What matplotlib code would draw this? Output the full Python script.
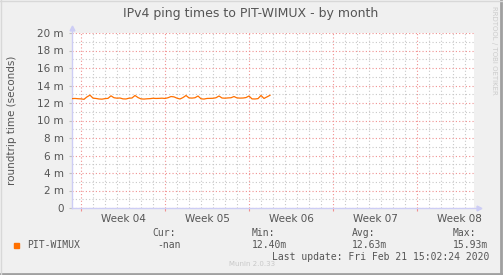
import matplotlib
matplotlib.use("Agg")
import matplotlib.pyplot as plt
import matplotlib.transforms as mtransforms
from matplotlib.lines import Line2D
import numpy as np

# ping samples, one every 6 hours, days counted from Mon Jan 20 2020
start_day = -0.75
step_days = 0.25
ping_ms = [
    12.50, 12.52, 12.49, 12.47, 12.42, 12.70, 12.90, 12.55, 12.52, 12.46,
    12.44, 12.50, 12.53, 12.82, 12.60, 12.55, 12.57, 12.47, 12.46, 12.55,
    12.57, 12.86, 12.62, 12.47, 12.45, 12.48, 12.50, 12.54, 12.52, 12.53,
    12.55, 12.52, 12.60, 12.74, 12.70, 12.55, 12.46, 12.62, 12.86, 12.58,
    12.56, 12.60, 12.80, 12.48, 12.45, 12.52, 12.53, 12.54, 12.60, 12.80,
    12.57, 12.55, 12.58, 12.60, 12.74, 12.58, 12.56, 12.57, 12.62, 12.80,
    12.47, 12.46, 12.50, 12.86, 12.52, 12.70, 12.88,
]
week_starts = [0, 7, 14, 21, 28]
week_labels = ["Week 04", "Week 05", "Week 06", "Week 07", "Week 08"]
y_ticks = [0, 2, 4, 6, 8, 10, 12, 14, 16, 18, 20]
y_labels = ["0"] + [f"{v} m" for v in y_ticks[1:]]
x_range = (-0.75, 32.75)

series_name = "PIT-WIMUX"
stats_heads = ["Cur:", "Min:", "Avg:", "Max:"]
stats_vals = ["-nan", "12.40m", "12.63m", "15.93m"]
last_update = "Last update: Fri Feb 21 15:02:24 2020"

bg = "#F0F0F0"
txt = "#555555"
line_col = "#FF7000"
axis_col = "#CDCDF5"

fig = plt.figure(figsize=(5.03, 2.75), dpi=100, facecolor=bg)
ax = fig.add_axes([72 / 503, 1 - 208 / 275, 402 / 503, 175 / 275])
ax.set_facecolor("white")

t = start_day + step_days * np.arange(len(ping_ms))
ax.plot(t, ping_ms, color=line_col, linewidth=0.9, zorder=5)

ax.set_xlim(*x_range)
ax.set_ylim(0, 20)

ax.set_xticks(week_starts)
ax.set_xticklabels([])
ax.set_xticks(np.arange(0, 33), minor=True)
ax.set_yticks(y_ticks)
ax.set_yticklabels(y_labels)
ax.set_yticks(np.arange(0, 21), minor=True)

ax.grid(which="minor", color="#C8C8C8", linestyle=(0, (1, 2)), linewidth=0.8)
ax.grid(which="major", color="#F09090", linestyle=(0, (1, 2)), linewidth=0.8)
ax.set_axisbelow(True)

ax.tick_params(axis="x", which="major", length=2, color="#F09090", pad=2)
ax.tick_params(axis="y", which="major", length=2, color="#C0C0C0",
               labelsize=7.5, labelcolor=txt, pad=4)
ax.tick_params(which="minor", length=0)

trans = mtransforms.blended_transform_factory(ax.transData, ax.transAxes)
for ws, lab in zip(week_starts, week_labels):
    ax.text(ws + 3.5, -0.035, lab, transform=trans, ha="center", va="top",
            fontsize=7.5, color=txt)

for s in ax.spines.values():
    s.set_visible(False)
ax.add_line(Line2D([0, 0], [0, 1.03], transform=ax.transAxes, color=axis_col,
                   linewidth=1, clip_on=False))
ax.add_line(Line2D([0, 1.012], [0, 0], transform=ax.transAxes, color=axis_col,
                   linewidth=1, clip_on=False))
ax.plot([0], [1.03], marker="^", markersize=3.5, color=axis_col,
        transform=ax.transAxes, clip_on=False)
ax.plot([1.012], [0], marker=">", markersize=3.5, color=axis_col,
        transform=ax.transAxes, clip_on=False)

fig.text(251 / 503, 1 - 14 / 275, "IPv4 ping times to PIT-WIMUX - by month",
         ha="center", va="center", fontsize=9, color=txt)
fig.text(12 / 503, 1 - 120 / 275, "roundtrip time (seconds)", rotation=90,
         ha="center", va="center", fontsize=7.5, color=txt)
fig.text(494 / 503, 1 - 6 / 275, "RRDTOOL / TOBI OETIKER", rotation=270,
         ha="center", va="top", fontsize=5, color="#CCCCCC")

mono = "DejaVu Sans Mono"
fig.patches.append(plt.Rectangle((14 / 503, 1 - 248 / 275), 5 / 503, 5 / 275,
                                 transform=fig.transFigure, color=line_col))
fig.text(27 / 503, 1 - 245.5 / 275, series_name, family=mono, fontsize=7,
         color=txt, va="center")
head_x = [152, 252, 352, 453]
for hx, h, v in zip(head_x, stats_heads, stats_vals):
    fig.text(hx / 503, 1 - 233 / 275, h, family=mono, fontsize=7,
             color=txt, va="center")
    vx = hx + 5 if v == "-nan" else hx
    fig.text(vx / 503, 1 - 245.5 / 275, v, family=mono, fontsize=7,
             color=txt, va="center")
fig.text(489 / 503, 1 - 257 / 275, last_update, family=mono, fontsize=7,
         color=txt, va="center", ha="right")
fig.text(252 / 503, 1 - 264 / 275, "Munin 2.0.33", fontsize=5,
         color="#C8C8C8", ha="center", va="center")

# frame edges
fig.add_artist(Line2D([0, 1], [0.003, 0.003], transform=fig.transFigure,
                      color="#A0A0A0", linewidth=2))
fig.add_artist(Line2D([0.997, 0.997], [0, 1], transform=fig.transFigure,
                      color="#A0A0A0", linewidth=2))
fig.add_artist(Line2D([0, 1], [0.998, 0.998], transform=fig.transFigure,
                      color="#D8D8D8", linewidth=1))
fig.add_artist(Line2D([0.001, 0.001], [0, 1], transform=fig.transFigure,
                      color="#D8D8D8", linewidth=1))

fig.savefig("out.png", dpi=100, facecolor=bg)
